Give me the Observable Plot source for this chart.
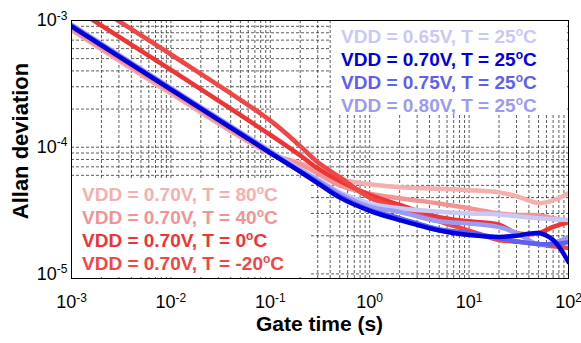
<!DOCTYPE html>
<html><head><meta charset="utf-8">
<script src="https://cdn.jsdelivr.net/npm/d3@7"></script>
<script src="https://cdn.jsdelivr.net/npm/@observablehq/plot@0.6"></script>
<style>
html,body{margin:0;padding:0;background:#fff;}
#chart{position:relative;width:581px;height:343px;}
</style></head><body><div id="chart"></div>
<script>
const FONT = "'Liberation Sans', Arial, Helvetica, sans-serif";

// Gate time (s)
const gateTime = [0.001, 0.01, 0.1, 0.2, 0.3, 0.5, 1, 2, 5, 10, 20, 30, 50, 70, 100];

// Allan deviation values, one array per series
const vdd065_25C = [9.3e-4, 2.95e-4, 9.4e-5, 6.7e-5, 5.6e-5, 4.4e-5, 3.6e-5, 3.3e-5, 3.1e-5, 3.0e-5, 2.95e-5, 2.85e-5, 2.75e-5, 2.7e-5, 2.66e-5];
const vdd070_25C = [9.0e-4, 2.85e-4, 9.0e-5, 6.4e-5, 5.2e-5, 4.0e-5, 3.15e-5, 2.66e-5, 2.2e-5, 2.03e-5, 1.96e-5, 2.0e-5, 2.1e-5, 1.85e-5, 1.24e-5];
const vdd075_25C = [9.1e-4, 2.88e-4, 9.1e-5, 6.45e-5, 5.3e-5, 4.1e-5, 3.2e-5, 2.76e-5, 2.25e-5, 2.1e-5, 1.92e-5, 1.8e-5, 1.72e-5, 1.72e-5, 1.78e-5];
const vdd080_25C = [9.2e-4, 2.9e-4, 9.2e-5, 6.6e-5, 5.5e-5, 4.3e-5, 3.4e-5, 3.08e-5, 2.6e-5, 2.5e-5, 2.34e-5, 2.1e-5, 1.7e-5, 1.75e-5, 1.95e-5];
const vdd070_80C = [8.4e-4, 2.65e-4, 8.9e-5, 7.5e-5, 6.5e-5, 5.6e-5, 5.1e-5, 4.84e-5, 4.7e-5, 4.58e-5, 4.4e-5, 4.1e-5, 3.62e-5, 3.8e-5, 4.34e-5];
const vdd070_40C = [8.6e-4, 2.75e-4, 9.0e-5, 7.3e-5, 6.2e-5, 5.0e-5, 4.3e-5, 3.96e-5, 3.6e-5, 3.3e-5, 3.0e-5, 2.92e-5, 2.9e-5, 2.75e-5, 2.57e-5];
const vdd070_0C  = [1.29e-3, 4.07e-4, 1.25e-4, 8.6e-5, 6.8e-5, 5.4e-5, 4.2e-5, 3.5e-5, 2.8e-5, 2.6e-5, 2.45e-5, 2.1e-5, 2.1e-5, 2.35e-5, 2.55e-5];
const vdd070_m20C = [1.7e-3, 5.39e-4, 1.62e-4, 1.02e-4, 7.6e-5, 5.8e-5, 4.0e-5, 3.3e-5, 2.6e-5, 2.2e-5, 1.85e-5, 1.8e-5, 1.72e-5, 1.65e-5, 1.6e-5];

// Legend labels
const vddLabels = ["VDD = 0.65V, T = 25oC", "VDD = 0.70V, T = 25oC", "VDD = 0.75V, T = 25oC", "VDD = 0.80V, T = 25oC"];
const tempLabels = ["VDD = 0.70V, T = 80oC", "VDD = 0.70V, T = 40oC", "VDD = 0.70V, T = 0oC", "VDD = 0.70V, T = -20oC"];
const vddColors = ["#c9c9f7", "#0000dd", "#5f5ff0", "#9b9bf3"];
const tempColors = ["#f5afaf", "#f39393", "#ee3434", "#ef4646"];

// Axis ticks
const xMajor = [1e-3, 1e-2, 1e-1, 1e0, 1e1, 1e2];
const yMajor = [1e-5, 1e-4, 1e-3];
const xExp = ["-3", "-2", "-1", "0", "1", "2"];
const yExp = ["-5", "-4", "-3"];

const vddValues = [vdd065_25C, vdd070_25C, vdd075_25C, vdd080_25C];
const tempValues = [vdd070_80C, vdd070_40C, vdd070_0C, vdd070_m20C];

// drawing order: temperature series first, blue series on top
const drawOrder = [
  [tempLabels[0], tempValues[0]], [tempLabels[1], tempValues[1]],
  [tempLabels[2], tempValues[2]], [tempLabels[3], tempValues[3]],
  [vddLabels[0], vddValues[0]], [vddLabels[3], vddValues[3]],
  [vddLabels[2], vddValues[2]], [vddLabels[1], vddValues[1]]
];
const rows = drawOrder.flatMap(([s, vals]) => vals.map((v, i) => ({series: s, t: gateTime[i], v})));

// minor grid positions
const xGrid = [], yGrid = [];
for (let e = -3; e < 2; e++) for (let m = 1; m < 10; m++) xGrid.push(m * 10 ** e);
for (let e = -6; e < -3; e++) for (let m = 1; m < 10; m++) { const v = m * 10 ** e; if (v >= 9.2e-6) yGrid.push(v); }

const chart = Plot.plot({
  width: 581, height: 343,
  marginLeft: 71, marginRight: 13, marginTop: 20, marginBottom: 65,
  style: {fontFamily: FONT, background: "#fff"},
  x: {type: "log", domain: [1e-3, 1e2]},
  y: {type: "log", domain: [9.2e-6, 1e-3]},
  color: {domain: [...vddLabels, ...tempLabels], range: [...vddColors, ...tempColors]},
  marks: [
    Plot.ruleX(xGrid, {stroke: "#000", strokeWidth: 0.8, strokeDasharray: "3,2", strokeOpacity: 0.8}),
    Plot.ruleY(yGrid, {stroke: "#000", strokeWidth: 0.8, strokeDasharray: "3,2", strokeOpacity: 0.8}),
    Plot.line(rows, {x: "t", y: "v", z: "series", stroke: "series", strokeWidth: 4.5, curve: "catmull-rom", clip: true}),
    Plot.frame({stroke: "#000", strokeWidth: 1}),
    Plot.axisX(xMajor, {tickSize: 0, tickPadding: 17, fontSize: 18, tickFormat: d => "10^" + xExp[xMajor.indexOf(d)], label: null}),
    Plot.axisY(yMajor, {tickSize: 0, tickPadding: 4, fontSize: 18, tickFormat: d => "10^" + yExp[yMajor.indexOf(d)], label: null})
  ]
});

// superscript tick labels
d3.select(chart).selectAll('g[aria-label="x-axis tick label"] text, g[aria-label="y-axis tick label"] text').each(function() {
  const s = this.textContent;
  const [base, exp] = s.split("^");
  const t = d3.select(this);
  t.text(null).attr("fill", "#000");
  t.append("tspan").text(base);
  t.append("tspan").attr("dy", "-0.55em").attr("font-size", "12px").text(exp);
});

// legend boxes (white) below lines, above grid
const firstLine = chart.querySelector('g[aria-label="line"]');
const leg = d3.create("svg:g").attr("font-family", FONT).attr("font-weight", "bold").attr("font-size", 19).attr("text-anchor", "start");
function addBox(x, y, w, h, labels, colors, tx, ty) {
  leg.append("rect").attr("x", x).attr("y", y).attr("width", w).attr("height", h).attr("fill", "#fff");
  labels.forEach((lab, i) => {
    const [pre] = lab.split("oC");
    const t = leg.append("text").attr("x", tx).attr("y", ty + i * 22.9).attr("fill", colors[i]).attr("text-anchor", "start");
    t.append("tspan").text(pre);
    t.append("tspan").attr("font-size", 12).attr("dy", -7).text("o");
    t.append("tspan").attr("dy", 7).text("C");
  });
}
addBox(331, 21, 236, 93, vddLabels, vddColors, 341, 43);
addBox(72, 178, 238, 99, tempLabels, tempColors, 82, 201);
chart.insertBefore(leg.node(), firstLine);

// axis titles
const titles = d3.select(chart).append("g").attr("font-family", FONT).attr("font-weight", "bold").attr("font-size", 21).attr("fill", "#000");
titles.append("text").attr("x", 319.5).attr("y", 331).attr("text-anchor", "middle").text("Gate time (s)");
titles.append("text").attr("transform", "translate(28,141) rotate(-90)").attr("text-anchor", "middle").attr("font-size", 22).text("Allan deviation");

document.getElementById("chart").appendChild(chart);
</script>
</body></html>
